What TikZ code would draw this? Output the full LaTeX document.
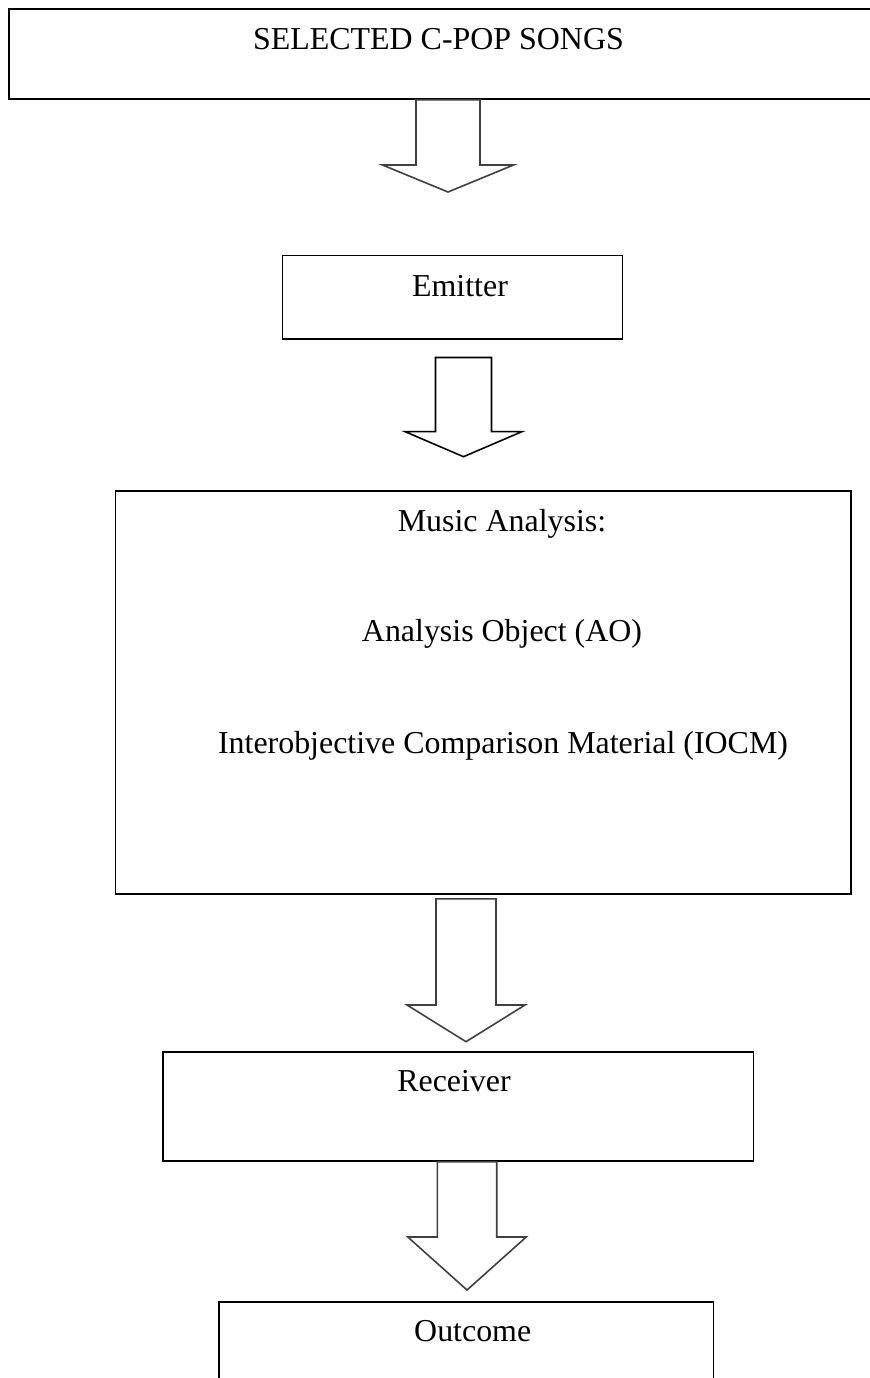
\documentclass[tikz,border=0pt]{standalone}
\usepackage{fontspec}
\setmainfont{Liberation Serif}
\usetikzlibrary{calc, fit}

% hollow block arrow: [colour] {shaft top} {tip} {shaft half width} {head half width} {head length}
\newcommand{\hollowarrow}[6][black]{%
  \draw[blockarrow, draw=#1] ($(#2)+(-#4,0)$) -- ($(#3)+(-#4,-#6)$) -- ($(#3)+(-#5,-#6)$) -- (#3)
    -- ($(#3)+(#5,-#6)$) -- ($(#3)+(#4,-#6)$) -- ($(#2)+(#4,0)$) -- cycle;}

\begin{document}
\begin{tikzpicture}[
    x=0.376pt, y=-0.376pt,
    box/.style={draw, line width=0.6pt, inner sep=0pt},
    txt/.style={anchor=base, inner sep=0pt, font=\fontsize{12}{14}\selectfont},
    blockarrow/.style={line width=0.6pt, line join=miter}
]
\useasboundingbox (0,0) rectangle (869,1378);

% Boxes
\node[box, fit={(9,9) (890,99)}] (songs) {};
\node[box, fit={(282.3,255.7) (622.3,339)}] (emitter) {};
\node[box, fit={(115.7,490.7) (850.7,894)}] (analysis) {};
\node[box, fit={(162.8,1051.7) (753.4,1161)}] (receiver) {};
\node[box, fit={(218.8,1301.7) (713.4,1400)}] (outcome) {};

% Texts
\node[txt] (songs-t) at (438.5,49.3) {SELECTED C-POP SONGS};
\node[txt] (emitter-t) at (460,296) {Emitter};
\node[txt] (music-t) at (502,531) {Music Analysis:};
\node[txt] (ao-t) at (502,641.7) {Analysis Object (AO)};
\node[txt] (iocm-t) at (503,753) {Interobjective Comparison Material (IOCM)};
\node[txt] (receiver-t) at (454,1091.7) {Receiver};
\node[txt] (outcome-t) at (472.7,1341.7) {Outcome};

% Arrows
\coordinate (tip1) at (448,192);
\coordinate (top1) at (tip1 |- songs.south);
\hollowarrow[black!75]{top1}{tip1}{32}{65.5}{27}

\coordinate (tip2) at (463.5,456.7);
\coordinate (top2) at ($(tip2 |- emitter.south)+(0,17.7)$);
\hollowarrow{top2}{tip2}{28}{58.3}{25}

\coordinate (tip3) at (466,1041.7);
\coordinate (top3) at ($(tip3 |- analysis.south)+(0,4)$);
\hollowarrow[black!75]{top3}{tip3}{30}{59}{36.7}

\coordinate (tip4) at (467,1290);
\coordinate (top4) at (tip4 |- receiver.south);
\hollowarrow[black!75]{top4}{tip4}{29.7}{59.2}{53}
\end{tikzpicture}
\end{document}
